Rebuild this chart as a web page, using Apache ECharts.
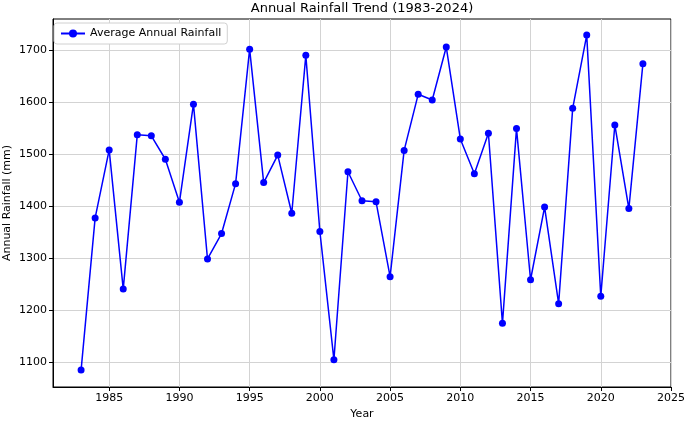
<!DOCTYPE html>
<html>
<head>
<meta charset="utf-8">
<script src="https://cdn.jsdelivr.net/npm/echarts@6/dist/echarts.min.js"></script>
<style>
html,body{margin:0;padding:0;background:#fff;}
#chart{width:685px;height:421px;}
</style>
</head>
<body>
<div id="chart"></div>
<script>
const years = [1983,1984,1985,1986,1987,1988,1989,1990,1991,1992,1993,1994,1995,1996,1997,1998,1999,2000,2001,2002,2003,2004,2005,2006,2007,2008,2009,2010,2011,2012,2013,2014,2015,2016,2017,2018,2019,2020,2021,2022,2023];
const rainfall = [1084,1377,1508,1240,1537,1535,1490,1407,1596,1298,1347,1443,1702,1445,1498,1386,1690,1351,1104,1466,1410,1408,1264,1507,1615,1604,1706,1529,1462,1540,1174,1549,1258,1398,1212,1588,1729,1226,1556,1395,1674];
const xTicks = [1985,1990,1995,2000,2005,2010,2015,2020,2025];
const yTicks = [1100,1200,1300,1400,1500,1600,1700];

const FONT = 'DejaVu Sans';
const chart = echarts.init(document.getElementById('chart'), null, {renderer:'canvas'});
chart.setOption({
  animation: false,
  backgroundColor: '#fff',
  textStyle: {fontFamily: FONT},
  title: {
    text: 'Annual Rainfall Trend (1983-2024)',
    left: 362, top: 2, padding: 0, textAlign: 'center',
    textStyle: {fontFamily: FONT, fontSize: 13, fontWeight: 'normal', color: '#000'}
  },
  legend: {
    left: 54, top: 23,
    padding: [5, 6],
    itemWidth: 24, itemHeight: 10, itemGap: 10,
    backgroundColor: '#fff',
    borderColor: '#d0d0d0', borderWidth: 1, borderRadius: 3,
    textStyle: {fontFamily: FONT, fontSize: 11, color: '#000'},
    data: ['Average Annual Rainfall']
  },
  grid: {
    left: 53, right: 14, top: 19, bottom: 34,
    containLabel: false, outerBoundsMode: 'none',
    show: true, borderColor: '#000', borderWidth: 1
  },
  xAxis: {
    type: 'value', min: 1981, max: 2025,
    name: 'Year', nameLocation: 'middle', nameGap: 22, nameMoveOverlap: false,
    nameTextStyle: {fontFamily: FONT, fontSize: 11, color: '#000'},
    axisLine: {show: true, lineStyle: {color: '#000', width: 1}},
    axisTick: {show: true, inside: false, length: 4, customValues: xTicks, lineStyle: {color: '#000'}},
    axisLabel: {customValues: xTicks, formatter: v => String(v), fontFamily: FONT, fontSize: 11, color: '#000', margin: 6},
    splitLine: {show: true, lineStyle: {color: '#d3d3d3', width: 1}}
  },
  yAxis: {
    type: 'value', min: 1051.5, max: 1760,
    name: 'Annual Rainfall (mm)', nameLocation: 'middle', nameGap: 40, nameMoveOverlap: false,
    nameTextStyle: {fontFamily: FONT, fontSize: 11, color: '#000'},
    axisLine: {show: true, lineStyle: {color: '#000', width: 1}},
    axisTick: {show: true, inside: false, length: 4, customValues: yTicks, lineStyle: {color: '#000'}},
    axisLabel: {customValues: yTicks, formatter: v => String(v), fontFamily: FONT, fontSize: 11, color: '#000', margin: 6},
    splitLine: {show: true, lineStyle: {color: '#d3d3d3', width: 1}}
  },
  series: [{
    name: 'Average Annual Rainfall',
    type: 'line',
    data: years.map((y, i) => [y, rainfall[i]]),
    symbol: 'circle', symbolSize: 7,
    lineStyle: {color: '#0000ff', width: 1.5},
    itemStyle: {color: '#0000ff'}
  }]
});
</script>
</body>
</html>
